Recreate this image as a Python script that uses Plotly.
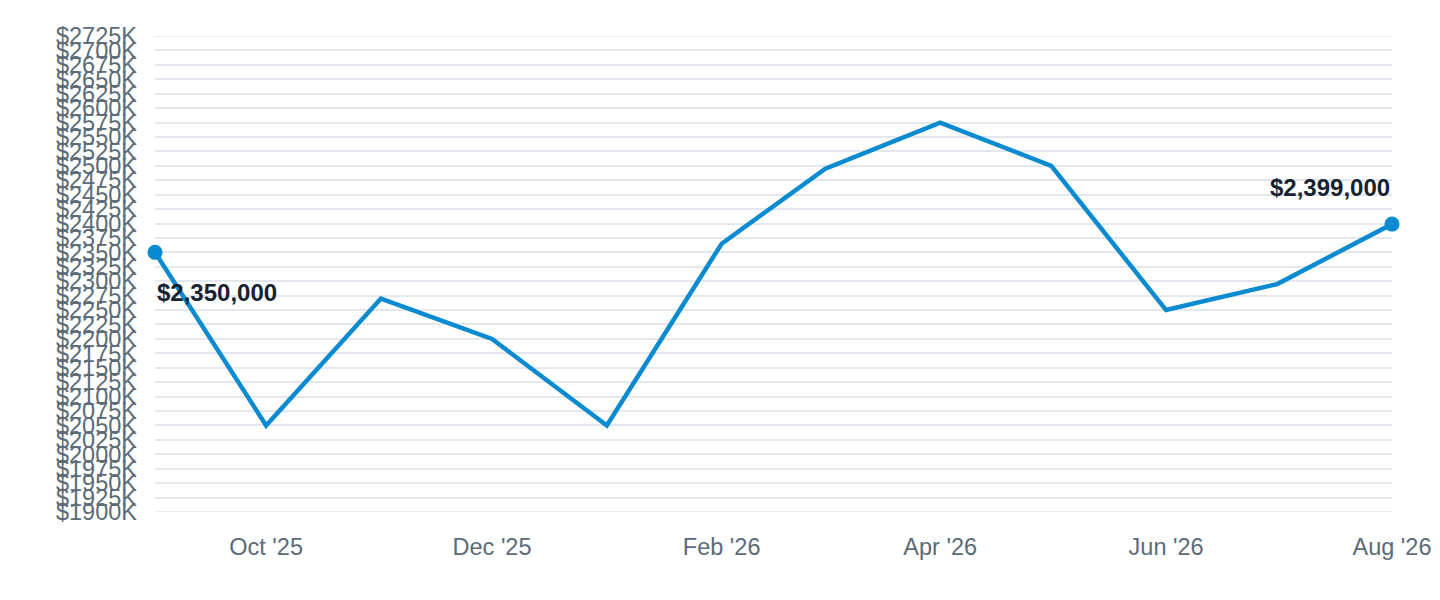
import pandas as pd
import plotly.graph_objects as pgo

# monthly values (in $K)
months = ["2025-09-01", "2025-10-01", "2025-11-01", "2025-12-01", "2026-01-01", "2026-02-01",
          "2026-03-01", "2026-04-01", "2026-05-01", "2026-06-01", "2026-07-01", "2026-08-01"]
valuesK = [2350, 2050, 2270, 2200, 2050, 2365, 2495, 2575, 2500, 2250, 2295, 2399]

# y tick values every 25K
yTicks = list(range(1900, 2726, 25))
yTickText = ["$" + str(v) + "K" for v in yTicks]

df = pd.DataFrame({"Month": pd.to_datetime(months), "Value": valuesK})

lineColor = "#0a8ad0"
labelColor = "#5b6b78"
textColor = "#14232f"
gridColor = "#e3e8ee"

fig = pgo.Figure()

#plotly skips gridlines on the range edges, so draw those two by hand
for edge in (yTicks[0], yTicks[-1]):
    fig.add_hline(y=edge, line=dict(color=gridColor, width=1.5), layer="below")

fig.add_trace(pgo.Scatter(x=df["Month"], y=df["Value"], mode="lines",
                          line=dict(color=lineColor, width=4.5), hoverinfo="skip"))

#only the first and last month get a dot
ends = df.iloc[[0, -1]]
fig.add_trace(pgo.Scatter(x=ends["Month"], y=ends["Value"], mode="markers",
                          marker=dict(color=lineColor, size=15), cliponaxis=False))

first = df.iloc[0]
last = df.iloc[-1]
fig.add_annotation(x=first["Month"], y=first["Value"], text="<b>${:,.0f}</b>".format(first["Value"] * 1000),
                   showarrow=False, xanchor="left", yanchor="middle", xshift=0, yshift=-40,
                   font=dict(size=24, color=textColor))
fig.add_annotation(x=last["Month"], y=last["Value"], text="<b>${:,.0f}</b>".format(last["Value"] * 1000),
                   showarrow=False, xanchor="right", yanchor="middle", xshift=0, yshift=37,
                   font=dict(size=24, color=textColor))

#page body has an 8px margin, so the margins are trimmed by that
fig.update_layout(
    width=1440, height=600,
    margin=dict(l=147, r=56, t=28, b=96),
    plot_bgcolor="white", paper_bgcolor="white",
    showlegend=False,
    font=dict(family="Liberation Sans, Arial, sans-serif", size=23.5, color=labelColor),
)
fig.update_xaxes(range=[df["Month"].iloc[0], df["Month"].iloc[-1]], tickformat="%b '%y",
                 dtick="M2", tick0="2025-10-01", showgrid=False, zeroline=False,
                 showline=False, ticks="", ticklabelstandoff=18, automargin=False)
fig.update_yaxes(range=[1900, 2725], tickvals=yTicks, ticktext=yTickText,
                 showgrid=True, gridcolor=gridColor, gridwidth=1.5, zeroline=False,
                 showline=False, ticks="", ticklabelstandoff=17, automargin=False)

fig.write_html("out.html")
